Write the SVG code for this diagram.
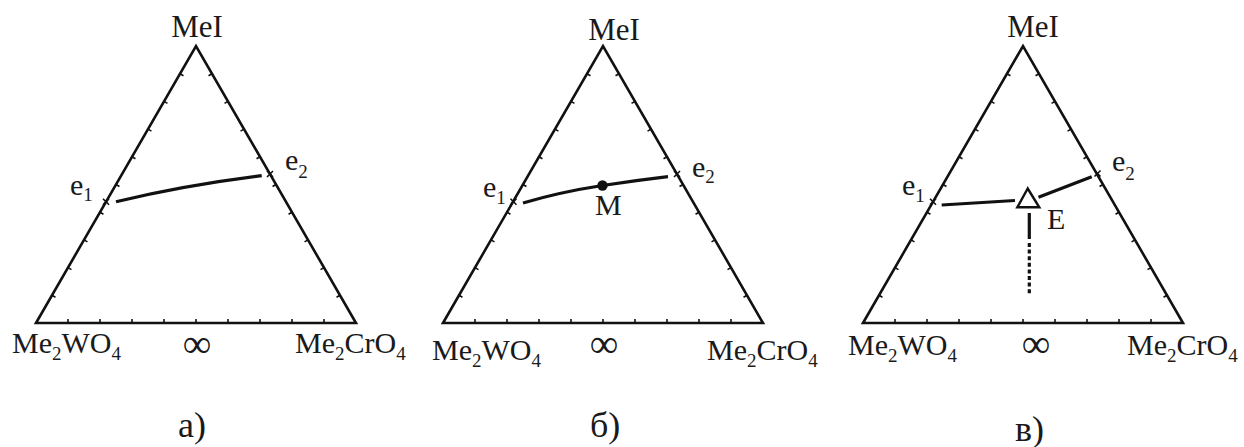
<svg xmlns="http://www.w3.org/2000/svg" xmlns:xlink="http://www.w3.org/1999/xlink" width="1244" height="447" viewBox="0 0 1244 447" font-family="'Liberation Serif', 'Times New Roman', Times, serif">
<style>
text{font-family:'Liberation Serif','Times New Roman',Times,serif;fill:#1a1a1a}
.lbl{font-size:30px}
.top{font-size:31px;text-anchor:middle}
.sub{font-size:19px}
.inf{font-size:40px;text-anchor:middle}
.cap{font-size:36px}
.frame{fill:none;stroke:#111;stroke-width:2.6;stroke-linejoin:miter}
.tick{fill:none;stroke:#111;stroke-width:1.6}
.curve{fill:none;stroke:#111;stroke-width:3.2;stroke-linecap:butt}
.cross{fill:none;stroke:#111;stroke-width:1.6}
</style>
<defs>
<g id="tri">
<path class="frame" d="M0,0 L160,-277 L320,0 Z"/>
<path class="tick" d="M16,-27.7l3.46,2M32,-55.4l3.46,2M48,-83.1l3.46,2M64,-110.8l3.46,2M80,-138.5l3.46,2M96,-166.2l3.46,2M112,-193.9l3.46,2M128,-221.6l3.46,2M144,-249.3l3.46,2M304,-27.7l-3.46,2M288,-55.4l-3.46,2M272,-83.1l-3.46,2M256,-110.8l-3.46,2M240,-138.5l-3.46,2M224,-166.2l-3.46,2M208,-193.9l-3.46,2M192,-221.6l-3.46,2M176,-249.3l-3.46,2M32,0v-4M64,0v-4M96,0v-4M128,0v-4M160,0v-4M192,0v-4M224,0v-4M256,0v-4M288,0v-4"/>
</g>
<path id="x" class="cross" d="M-3,-3L3,3M-3,3L3,-3"/>
</defs>

<g id="diagram-a">
<use xlink:href="#tri" x="36" y="323"/>
<use xlink:href="#x" x="106" y="201.7"/>
<use xlink:href="#x" x="270" y="174"/>
<text class="top" x="197" y="37">MeI</text>
<text class="lbl" x="70" y="195">e<tspan class="sub" dy="6">1</tspan></text>
<text class="lbl" x="285" y="170">e<tspan class="sub" dy="8">2</tspan></text>
<text class="lbl" x="12" y="353">Me<tspan class="sub" dy="7">2</tspan><tspan dy="-7">WO</tspan><tspan class="sub" dy="7">4</tspan></text>
<text class="lbl" x="295" y="353">Me<tspan class="sub" dy="7">2</tspan><tspan dy="-7">CrO</tspan><tspan class="sub" dy="7">4</tspan></text>
<text class="inf" x="197" y="357">∞</text>
<text class="cap" x="178" y="437">а)</text>
</g>

<g id="diagram-b">
<use xlink:href="#tri" x="443" y="323"/>
<use xlink:href="#x" x="513.5" y="201.7"/>
<use xlink:href="#x" x="677" y="174"/>
<circle cx="602.5" cy="185.5" r="5.2" fill="#111"/>
<text class="top" x="614" y="40">MeI</text>
<text class="lbl" x="483" y="197">e<tspan class="sub" dy="7">1</tspan></text>
<text class="lbl" x="692" y="177">e<tspan class="sub" dy="6">2</tspan></text>
<text class="lbl" x="595" y="215">M</text>
<text class="lbl" x="432" y="360">Me<tspan class="sub" dy="7">2</tspan><tspan dy="-7">WO</tspan><tspan class="sub" dy="7">4</tspan></text>
<text class="lbl" x="707" y="360">Me<tspan class="sub" dy="7">2</tspan><tspan dy="-7">CrO</tspan><tspan class="sub" dy="7">4</tspan></text>
<text class="inf" x="604" y="357">∞</text>
<text class="cap" x="590" y="437">б)</text>
</g>

<g id="diagram-c">
<use xlink:href="#tri" x="863" y="323"/>
<use xlink:href="#x" x="933" y="201.7"/>
<use xlink:href="#x" x="1097.5" y="173.5"/>
<path d="M1027.7,188.5 L1017.3,207.3 L1039.3,207.3 Z" fill="none" stroke="#111" stroke-width="2.4"/>
<text class="top" x="1033" y="37">MeI</text>
<text class="lbl" x="902" y="195">e<tspan class="sub" dy="7">1</tspan></text>
<text class="lbl" x="1112" y="171">e<tspan class="sub" dy="9">2</tspan></text>
<text class="lbl" x="1047" y="229">E</text>
<text class="lbl" x="848" y="355">Me<tspan class="sub" dy="7">2</tspan><tspan dy="-7">WO</tspan><tspan class="sub" dy="7">4</tspan></text>
<text class="lbl" x="1127" y="355">Me<tspan class="sub" dy="7">2</tspan><tspan dy="-7">CrO</tspan><tspan class="sub" dy="7">4</tspan></text>
<text class="inf" x="1036" y="357">∞</text>
<text class="cap" x="1015" y="441">в)</text>
</g>

<g id="connectors">
<path class="curve" d="M116,201.7 Q186,185 261.7,175.7"/>
<path class="curve" d="M523,203 Q560,192 602.5,185.5 Q636,180.5 668,176.7"/>
<path class="curve" d="M941.7,205 L1015,200.5"/>
<path class="curve" d="M1038.5,197.3 L1091.7,176.7"/>
<path class="curve" d="M1029.3,213 V239"/>
<path class="curve" d="M1029.3,243 V295" stroke-dasharray="4 2.6"/>
</g>
</svg>
